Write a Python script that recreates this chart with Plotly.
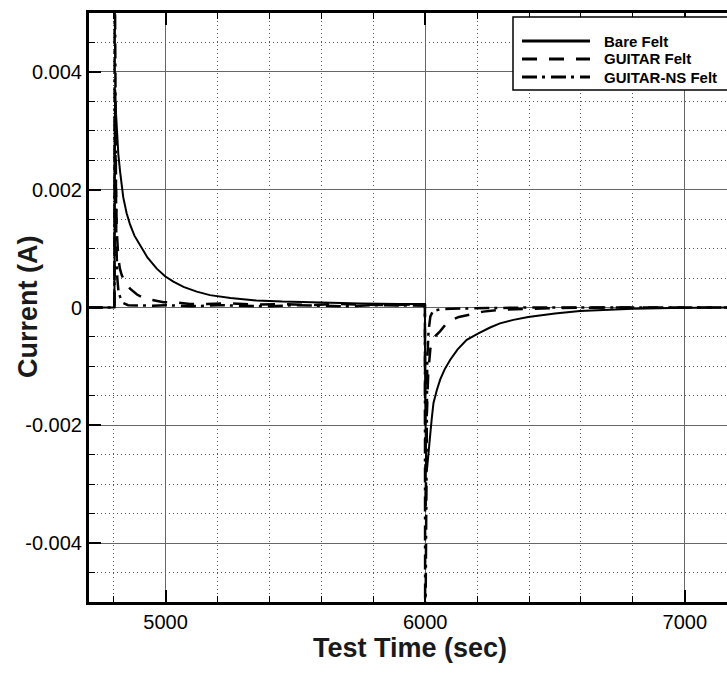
import plotly.graph_objects as go

# ---------------- data ----------------
series_names = ["Bare Felt", "GUITAR Felt", "GUITAR-NS Felt"]

bare_t = [4700, 4803, 4804, 4806, 4809, 4813, 4818, 4825, 4837, 4850, 4863, 4880, 4902, 4930,
          4966, 4998, 5030, 5069, 5120, 5171, 5250, 5350, 5450, 5600, 5750, 5900, 5999, 6000,
          6004, 6008, 6013, 6019, 6025, 6032, 6045, 6058, 6075, 6096, 6125, 6160, 6205, 6250,
          6288, 6340, 6397, 6500, 6596, 6700, 6801, 6950, 7200]
bare_i = [0, 0, 0.0030, 0.0037, 0.0033, 0.0029, 0.0026, 0.0023, 0.00187, 0.00160, 0.00141,
          0.00122, 0.00105, 0.00085, 0.00066, 0.00053, 0.00044, 0.00035, 0.00027, 0.00021,
          0.00016, 0.00012, 0.00010, 0.00008, 0.00007, 0.00006, 0.00006, -0.0015, -0.0028,
          -0.0027, -0.0025, -0.00218, -0.0019, -0.00162, -0.00140, -0.00122, -0.00105,
          -0.00089, -0.00071, -0.00055, -0.00044, -0.00034, -0.00027, -0.00021, -0.00016,
          -0.00010, -0.00006, -0.00004, -0.00002, -0.00001, 0.0]

guitar_t = [4700, 4803, 4804, 4806, 4809, 4812, 4818, 4824, 4831, 4845, 4863, 4890, 4921, 4960,
            4992, 5050, 5094, 5160, 5250, 5350, 5450, 5550, 5650, 5750, 5850, 5950, 5999, 6000,
            6002, 6006, 6012, 6020, 6030, 6040, 6058, 6080, 6103, 6130, 6160, 6190, 6224, 6288,
            6400, 6500, 6700, 7200]
guitar_i = [0, 0, 0.0022, 0.0029, 0.0020, 0.0013, 0.00084, 0.00066, 0.00055, 0.00042, 0.00032,
            0.00022, 0.00015, 0.00011, 0.00009, 0.00008, 0.00006, 0.00006, 0.00007, 0.00005,
            0.00006, 0.00004, 0.00006, 0.00005, 0.00004, 0.00005, 0.00004, -0.0020, -0.0034,
            -0.0018, -0.0011, -0.0007, -0.00055, -0.00048, -0.00040, -0.00028, -0.00021,
            -0.00016, -0.00013, -0.00010, -0.00007, -0.00004, -0.00002, -0.00001, 0.0, 0.0]

ns_t = [4700, 4803, 4804, 4805, 4807, 4810, 4814, 4819, 4825, 4835, 4856, 4900, 4950, 5000,
        5100, 5200, 5300, 5400, 5500, 5600, 5700, 5800, 5900, 5999, 6000, 6001, 6004, 6008,
        6013, 6020, 6030, 6045, 6060, 6100, 6200, 6400, 6600, 6800, 7200]
ns_i = [0, 0, 0.0062, 0.0062, 0.0030, 0.0012, 0.0005, 0.00025, 0.00018, 0.00008, 0.00004,
        0.00003, 0.00003, 0.00004, 0.00002, 0.00004, 0.00003, 0.00002, 0.00004, 0.00003,
        0.00002, 0.00004, 0.00003, 0.00003, -0.0062, -0.0062, -0.0025, -0.0009, -0.0004,
        -0.00015, -0.00006, -0.00004, -0.00003, -0.00002, -0.00001, 0, 0, 0, 0]

x_tickvals = [5000, 6000, 7000]
x_ticktext = ["5000", "6000", "7000"]
y_tickvals = [0.004, 0.002, 0, -0.002, -0.004]
y_ticktext = ["0.004", "0.002", "0", "-0.002", "-0.004"]

x_title = "Test Time (sec)"
y_title = "Current (A)"

# ---------------- layout geometry ----------------
OFF = 0                      # page body margin removed via post_script
W, H = 727, 674
ML, MT = 89, 13              # plot area starts at window x=89, y=13
PH = 589                     # plot area bottom at window y=602
MR = 0
MB = H - MT - PH
PW = W - ML - MR
PX_PER_UNIT = 0.2596         # pixels per second on x
X0 = 4705
X1 = X0 + PW / PX_PER_UNIT

dashes = ["solid", "15px,12px", "15px,5px,3px,6px"]
widths = [2, 2.5, 2.5]
FONT = "Liberation Sans, Arial, sans-serif"


def px2paper(px, py):
    return (px - OFF - ML) / PW, (OFF + MT + PH - py) / PH


fig = go.Figure()
for t, v, name, d, w in zip([bare_t, guitar_t, ns_t], [bare_i, guitar_i, ns_i],
                            series_names, dashes, widths):
    fig.add_trace(go.Scatter(x=t, y=v, mode="lines", name=name,
                             line=dict(color="black", width=w, dash=d),
                             showlegend=False))

axis_common = dict(
    showline=True, linecolor="black", linewidth=3,
    ticks="inside", ticklen=12, tickwidth=2, tickcolor="black",
    showgrid=True, gridcolor="#666666", gridwidth=1,
    zeroline=False,
    tickfont=dict(family=FONT, size=20, color="black"),
)
minor_common = dict(ticks="inside", ticklen=6, tickwidth=1, tickcolor="black",
                    showgrid=True, gridcolor="#555555", griddash="1px,3px", gridwidth=1)

fig.update_xaxes(
    range=[X0, X1], tickmode="array", tickvals=x_tickvals, ticktext=x_ticktext,
    mirror="ticks", minor=dict(dtick=200, tick0=4800, **minor_common),
    **axis_common,
)
fig.update_yaxes(
    range=[-0.005, 0.005], tickmode="array", tickvals=y_tickvals, ticktext=y_ticktext,
    minor=dict(dtick=0.0005, tick0=0, **minor_common),
    **axis_common,
)

# ---------------- hand-drawn legend (Tecplot style) ----------------
shapes = []
annots = []
bx0, by0 = px2paper(513, 17)
bx1, by1 = px2paper(780, 90)
shapes.append(dict(type="rect", xref="paper", yref="paper", x0=bx0, x1=bx1, y0=by1, y1=by0,
                   line=dict(color="black", width=1.5), fillcolor="white", layer="above"))
rows_y = [41, 59, 77]
for name, d, ry in zip(series_names, dashes, rows_y):
    lx0, ly = px2paper(522, ry)
    lx1, _ = px2paper(590, ry)
    shapes.append(dict(type="line", xref="paper", yref="paper", x0=lx0, x1=lx1, y0=ly, y1=ly,
                       line=dict(color="black", width=3, dash=d), layer="above"))
    tx, _ = px2paper(602, ry)
    annots.append(dict(xref="paper", yref="paper", x=tx, y=ly, xanchor="left", yanchor="middle",
                       text=f"<b>{name}</b>", showarrow=False,
                       font=dict(family=FONT, size=15, color="black")))

# axis titles
xtx, xty = px2paper(410, 648)
annots.append(dict(xref="paper", yref="paper", x=xtx, y=xty, xanchor="center", yanchor="middle",
                   text=f"<b>{x_title}</b>", showarrow=False,
                   font=dict(family=FONT, size=27, color="#1a1a1a")))
ytx, yty = px2paper(28, 307)
annots.append(dict(xref="paper", yref="paper", x=ytx, y=yty, xanchor="center", yanchor="middle",
                   text=f"<b>{y_title}</b>", showarrow=False, textangle=-90,
                   font=dict(family=FONT, size=27, color="#1a1a1a")))

fig.update_layout(
    width=W, height=H,
    margin=dict(l=ML, r=MR, t=MT, b=MB, pad=0),
    paper_bgcolor="white", plot_bgcolor="white",
    shapes=shapes, annotations=annots,
    showlegend=False,
)

fig.write_html("out.html",
               config={"displayModeBar": False},
               post_script="document.body.style.margin='0';document.body.style.overflow='hidden';")
